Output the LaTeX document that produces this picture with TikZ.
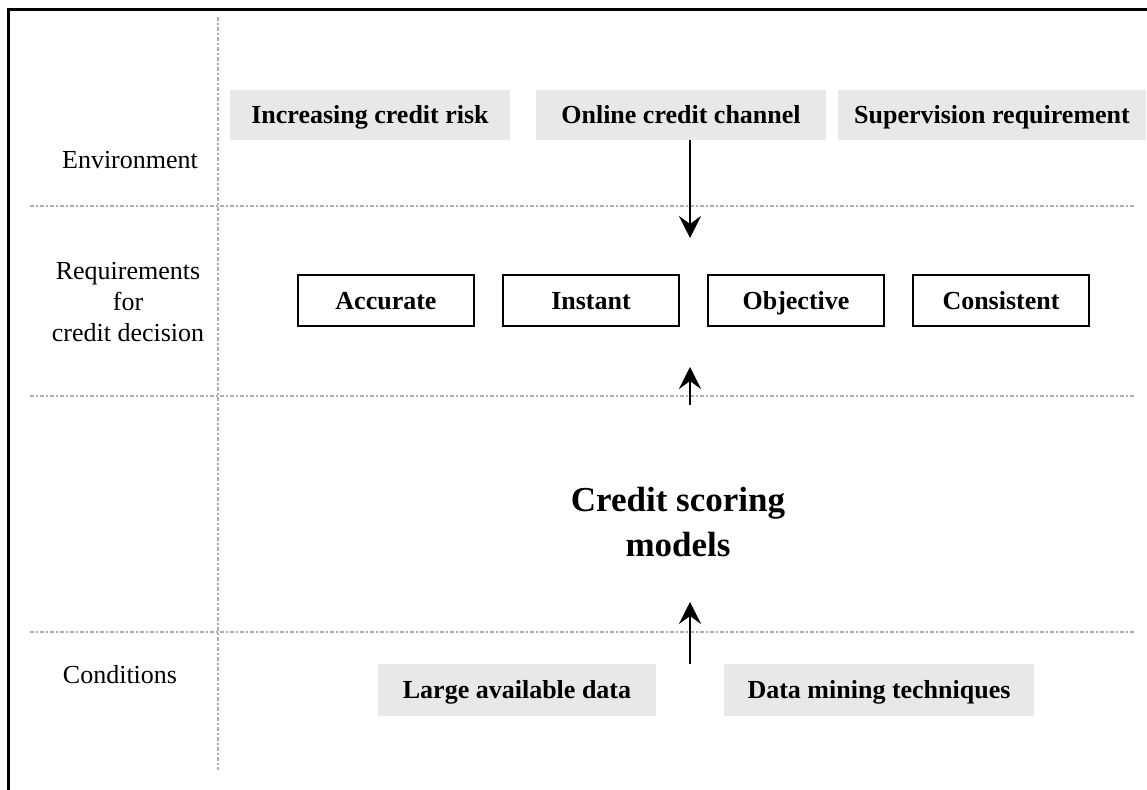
\documentclass[tikz,border=0pt]{standalone}
\usepackage{fontspec}
\setmainfont{Liberation Serif}
\usetikzlibrary{arrows.meta}
\definecolor{boxgray}{HTML}{E8E8E8}
\definecolor{linegray}{HTML}{AEAEAE}
\begin{document}
\begin{tikzpicture}[x=0.5pt, y=-0.5pt, >={Stealth[length=11pt,width=11pt,inset=4pt]},
	every node/.style={font=\fontsize{13}{15.5}\selectfont, inner sep=0pt},
	graybox/.style={fill=boxgray, minimum height=25pt, text height=10pt, text depth=1.5pt, font=\fontsize{13}{15.5}\selectfont\bfseries},
	whitebox/.style={draw=black, line width=1pt, minimum width=88pt, minimum height=25.5pt, text height=10pt, text depth=1.5pt, font=\fontsize{13}{15.5}\selectfont\bfseries},
	sepline/.style={linegray, line width=1.2pt, dash pattern=on 2pt off 1pt on 1pt off 1pt}]
	\useasboundingbox (0,0) rectangle (1147,790);
	
	% 1. frame (top and left only)
	\draw[line width=1.5pt] (1147,10) -- (8,10) -- (8,790);
	
	% 2. dotted separators
	\draw[sepline] (218,17) -- (218,770);
	\draw[sepline] (30,206) -- (1134,206);
	\draw[sepline] (30,396) -- (1134,396);
	\draw[sepline] (30,632) -- (1134,632);
	
	% 3. row labels
	\node (env) at (130,160) {Environment};
	\node[align=center] (req) at (128,302) {Requirements\\for\\credit decision};
	\node (cond) at (120,675) {Conditions};
	
	% 4. environment boxes
	\node[graybox, minimum width=140pt] (risk) at (370,115) {Increasing credit risk};
	\node[graybox, minimum width=145pt] (online) at (681,115) {Online credit channel};
	\node[graybox, minimum width=154pt] (superv) at (992,115) {Supervision requirement};
	
	% 5. requirement boxes
	\node[whitebox] (accurate) at (386,301) {Accurate};
	\node[whitebox] (instant) at (591,301) {Instant};
	\node[whitebox] (objective) at (796,301) {Objective};
	\node[whitebox] (consistent) at (1001,301) {Consistent};
	
	% 6. models and conditions
	\node[align=center, font=\fontsize{17.5}{22.5}\selectfont\bfseries] (models) at (678,522) {Credit scoring\\models};
	\node[graybox, minimum width=139pt, minimum height=26pt] (data) at (517,690) {Large available data};
	\node[graybox, minimum width=155pt, minimum height=26pt] (mining) at (879,690) {Data mining techniques};
	
	% 7. arrows
	\coordinate (tip1) at (690,238);
	\coordinate (tail2) at (690,405);
	\coordinate (tip2) at (690,367);
	\coordinate (tail3) at (690,664);
	\coordinate (tip3) at (690,602);
	\draw[->, line width=1.2pt] (online.south -| tip1) -- (tip1);
	\draw[->, line width=1.2pt] (tail2) -- (tip2);
	\draw[->, line width=1.2pt] (tail3) -- (tip3);
\end{tikzpicture}
\end{document}
